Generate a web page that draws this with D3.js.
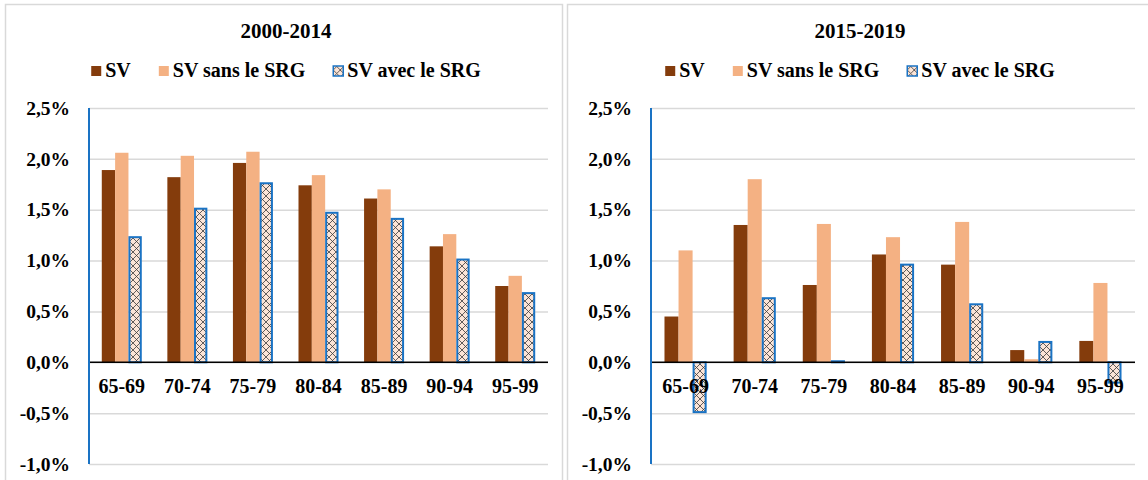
<!DOCTYPE html>
<html><head><meta charset="utf-8">
<script src="https://cdn.jsdelivr.net/npm/d3@7"></script>
<style>
html,body{margin:0;padding:0;background:#fff;}
svg text{font-family:"Liberation Serif","Times New Roman",serif;font-weight:bold;fill:#000;}
</style></head>
<body>
<svg id="chart" width="1148" height="480"></svg>
<script>
const categories = ["65-69","70-74","75-79","80-84","85-89","90-94","95-99"];
const seriesNames = ["SV","SV sans le SRG","SV avec le SRG"];
const titles = ["2000-2014","2015-2019"];
const sv_2000   = [1.89,1.82,1.96,1.74,1.61,1.14,0.75];
const sans_2000 = [2.06,2.03,2.07,1.84,1.70,1.26,0.85];
const avec_2000 = [1.23,1.51,1.76,1.47,1.41,1.01,0.68];
const sv_2015   = [0.45,1.35,0.76,1.06,0.96,0.12,0.21];
const sans_2015 = [1.10,1.80,1.36,1.23,1.38,0.03,0.78];
const avec_2015 = [-0.49,0.63,0.01,0.96,0.57,0.20,-0.20];
const yTicks = [-1.0,-0.5,0.0,0.5,1.0,1.5,2.0,2.5];

const svg = d3.select("#chart");
const defs = svg.append("defs");
const pat = defs.append("pattern").attr("id","lattice").attr("patternUnits","userSpaceOnUse")
  .attr("width",7).attr("height",7);
pat.append("rect").attr("width",7).attr("height",7).attr("fill","#FCE4D6");
pat.append("path").attr("d","M0,0L7,7M7,0L0,7").attr("stroke","#3a3a3a").attr("stroke-width",0.8);

const loc = d3.formatLocale({decimal:",",thousands:" ",grouping:[3],currency:["","%"],minus:"-"});
const fmt = v => loc.format(".1f")(v) + "%";

const colors = ["#843C0C","#F4B183","url(#lattice)"];

const panels = [
  {title:titles[0], data:[sv_2000,sans_2000,avec_2000], box:[5,4,557,490], x0:89, x1:548, center:286},
  {title:titles[1], data:[sv_2015,sans_2015,avec_2015], box:[567,4,600,490], x0:651, x1:1135, center:860}
];

const y = d3.scaleLinear().domain([-1,2.5]).range([464,108]);

panels.forEach(p => {
  const g = svg.append("g");
  g.append("rect").attr("x",p.box[0]+0.5).attr("y",p.box[1]+0.5).attr("width",p.box[2]).attr("height",p.box[3])
    .attr("fill","#fff").attr("stroke","#D9D9D9").attr("stroke-width",1.5);
  const pc = p.center;
  g.append("text").attr("x",pc).attr("y",38).attr("text-anchor","middle").attr("font-size",21).text(p.title);

  // grid
  const grid = g.append("g").attr("transform",`translate(${p.x0},0)`)
    .call(d3.axisLeft(y).tickValues(yTicks).tickSize(-(p.x1-p.x0)).tickFormat(""));
  grid.select(".domain").remove();
  grid.selectAll(".tick line").attr("stroke","#D9D9D9").attr("stroke-width",1.5);

  // tick labels
  const lab = g.append("g").attr("transform",`translate(${p.x0-19},0)`)
    .call(d3.axisLeft(y).tickValues(yTicks).tickSize(0).tickPadding(0).tickFormat(fmt));
  lab.select(".domain").remove();
  lab.selectAll("text").attr("font-size",19.5).attr("font-family","Liberation Serif").attr("font-weight","bold").attr("fill","#000");

  const x = d3.scaleBand().domain(categories).range([p.x0,p.x1]).paddingInner(0.39).paddingOuter(0.195);
  const xs = d3.scaleBand().domain(seriesNames).range([0,x.bandwidth()]);

  seriesNames.forEach((s,si) => {
    g.append("g").selectAll("rect").data(p.data[si]).join("rect")
      .attr("x",(d,i)=> x(categories[i]) + xs(s) + (si===2?1:0))
      .attr("width", xs.bandwidth() - (si===2?2:0))
      .attr("y", d => Math.min(y(d),y(0)))
      .attr("height", d => Math.abs(y(d)-y(0)))
      .attr("fill", colors[si])
      .attr("stroke", si===2 ? "#1A73C4" : "none")
      .attr("stroke-width", si===2 ? 2 : 0);
  });

  // zero line
  g.append("line").attr("x1",p.x0).attr("x2",p.x1).attr("y1",y(0)).attr("y2",y(0))
    .attr("stroke","#000").attr("stroke-width",1.5);
  // y axis line
  g.append("line").attr("x1",p.x0).attr("x2",p.x0).attr("y1",y(2.5)).attr("y2",y(-1))
    .attr("stroke","#1A73C4").attr("stroke-width",2);

  // category labels
  g.append("g").selectAll("text").data(categories).join("text")
    .attr("x", d => x(d) + x.bandwidth()/2)
    .attr("y", 393).attr("text-anchor","middle").attr("font-size",20).text(d=>d);

  // legend
  const leg = g.append("g");
  const items = leg.selectAll("g").data(seriesNames).join("g");
  items.append("rect").attr("width",10).attr("height",10).attr("y",-11)
    .attr("fill",(d,i)=>colors[i]).attr("stroke",(d,i)=> i===2?"#1A73C4":"none").attr("stroke-width",1.5);
  items.append("text").attr("x",14).attr("y",0).attr("font-size",20).text(d=>d);
  let off = 0;
  const gap = 28;
  items.each(function(){
    const w = d3.select(this).select("text").node().getComputedTextLength() + 14;
    d3.select(this).attr("transform",`translate(${off},77)`);
    off += w + gap;
  });
  const total = off - gap;
  leg.attr("transform",`translate(${pc - total/2},0)`);
});
</script>
</body></html>
